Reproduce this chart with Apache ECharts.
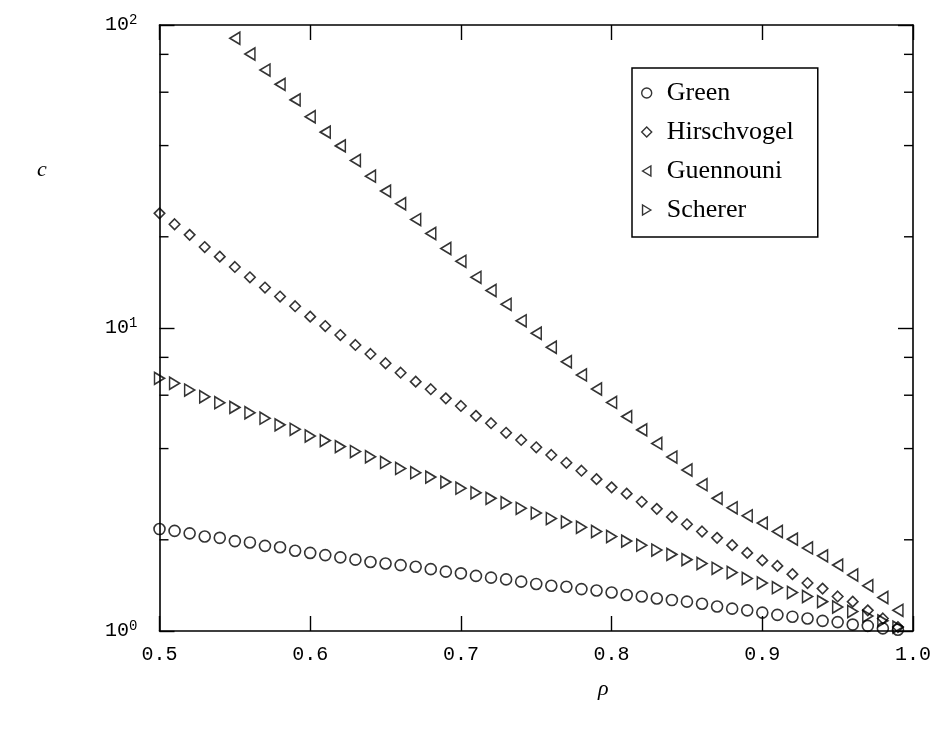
<!DOCTYPE html>
<html><head><meta charset="utf-8">
<script src="https://cdn.jsdelivr.net/npm/echarts@6/dist/echarts.min.js"></script>
<style>html,body{margin:0;padding:0;background:#fff}#c{width:934px;height:735px}</style>
</head><body><div id="c"></div>
<script>
// ---- data ----
const rho = [0.50,0.51,0.52,0.53,0.54,0.55,0.56,0.57,0.58,0.59,
             0.60,0.61,0.62,0.63,0.64,0.65,0.66,0.67,0.68,0.69,
             0.70,0.71,0.72,0.73,0.74,0.75,0.76,0.77,0.78,0.79,
             0.80,0.81,0.82,0.83,0.84,0.85,0.86,0.87,0.88,0.89,
             0.90,0.91,0.92,0.93,0.94,0.95,0.96,0.97,0.98,0.99];
const green = [2.17,2.14,2.10,2.05,2.03,1.98,1.96,1.91,1.89,1.84,
               1.81,1.78,1.75,1.72,1.69,1.67,1.65,1.63,1.60,1.57,
               1.55,1.52,1.50,1.48,1.455,1.43,1.41,1.40,1.375,1.36,
               1.34,1.315,1.30,1.28,1.265,1.25,1.23,1.205,1.185,1.17,
               1.15,1.13,1.115,1.10,1.08,1.07,1.05,1.04,1.02,1.01];
const hirschvogel = [23.9,22.0,20.3,18.5,17.2,15.9,14.7,13.6,12.7,11.8,
                     10.9,10.15,9.48,8.79,8.21,7.65,7.12,6.65,6.28,5.86,
                     5.53,5.13,4.85,4.51,4.27,4.04,3.81,3.59,3.38,3.17,
                     2.98,2.84,2.67,2.53,2.38,2.25,2.13,2.03,1.92,1.81,
                     1.71,1.64,1.54,1.44,1.38,1.30,1.25,1.17,1.10,1.03];
const guennouniRho = rho.slice(5); // 0.55 .. 0.99 (earlier values lie above 10^2)
const guennouni = [90.4,80.2,71.0,63.7,56.6,
                   49.8,44.3,39.9,35.7,31.7,28.3,25.7,22.8,20.5,18.3,
                   16.6,14.7,13.3,11.97,10.56,9.61,8.64,7.74,7.00,6.29,
                   5.68,5.10,4.61,4.16,3.75,3.40,3.04,2.74,2.55,2.40,
                   2.27,2.13,2.01,1.88,1.77,1.65,1.53,1.41,1.29,1.17];
const scherer = [6.82,6.57,6.24,5.93,5.67,5.47,5.25,5.04,4.79,4.63,
                 4.40,4.25,4.06,3.91,3.76,3.60,3.44,3.33,3.22,3.10,
                 2.96,2.86,2.74,2.65,2.54,2.45,2.35,2.29,2.20,2.13,
                 2.05,1.98,1.92,1.85,1.79,1.72,1.67,1.61,1.56,1.49,
                 1.44,1.39,1.34,1.30,1.25,1.20,1.16,1.12,1.08,1.03];
const seriesNames = ['Green','Hirschvogel','Guennouni','Scherer'];
const xMin = 0.5, xMax = 1.0, xStep = 0.1;
const yMin = 1, yMax = 100;
const minorTickValues = [2,4,6,8,20,40,60,80];

// ---- chart ----
const chart = echarts.init(document.getElementById('c'));
const mono = 'Liberation Mono';
const serif = 'Liberation Serif';
const lineStyle = {color:'#000', width:1.6};
const tickStyle = {color:'#000', width:1.4};
const markStyle = {color:'rgba(0,0,0,0)', borderColor:'#000', borderWidth:1.6};

const xBase = {type:'value', min:xMin, max:xMax, interval:xStep,
  axisLine:{show:true, onZero:false, lineStyle},
  axisTick:{show:true, inside:true, length:15, lineStyle:tickStyle},
  splitLine:{show:false}};
const yBase = {type:'log', logBase:10, min:yMin, max:yMax,
  axisLine:{show:true, onZero:false, lineStyle},
  axisTick:{show:true, inside:true, length:15, lineStyle:tickStyle},
  minorTick:{show:false}, splitLine:{show:false}};

const pairs = (xs, ys) => xs.map((x,i)=>[x, ys[i]]);
function scatter(name, xs, ys, symbol, size){
  return {type:'scatter', name, data:pairs(xs, ys), symbol, symbolSize:size,
    itemStyle:markStyle, clip:false, emphasis:{disabled:true}, z:3};
}

chart.setOption({
  animation:false,
  backgroundColor:'#fff',
  grid:{left:159.5, right:20, top:25, bottom:104},
  xAxis:[
    Object.assign({}, xBase, {position:'bottom',
      axisLabel:{margin:14, fontFamily:mono, fontSize:20, color:'#000',
        formatter:v=>v.toFixed(1)}}),
    Object.assign({}, xBase, {position:'top', axisLabel:{show:false}})
  ],
  yAxis:[
    Object.assign({}, yBase, {position:'left',
      axisLabel:{margin:22, color:'#000', fontFamily:mono, fontSize:20,
        formatter:v=>'10{s|'+Math.round(Math.log10(v))+'}',
        rich:{s:{fontFamily:mono, fontSize:14, color:'#000', padding:[0,0,10,0]}}}}),
    Object.assign({}, yBase, {position:'right', axisLabel:{show:false}})
  ],
  legend:{
    data:seriesNames, orient:'vertical', left:632, top:68,
    padding:[12,24,14,9], itemGap:13, itemWidth:30, itemHeight:10,
    borderColor:'#000', borderWidth:1.5, borderRadius:0,
    itemStyle:{color:'rgba(0,0,0,0)', borderColor:'#000', borderWidth:1.4}, selectedMode:false,
    textStyle:{fontFamily:serif, fontSize:26, color:'#000', lineHeight:26}
  },
  graphic:[
    {type:'text', left:37, top:159, style:{text:'c', font:'italic 22px "Liberation Serif"', fill:'#000'}},
    {type:'text', left:598, top:678, style:{text:'ρ', font:'italic 22px "Liberation Serif"', fill:'#000'}}
  ],
  series:[
    scatter('Green', rho, green, 'circle', 11),
    scatter('Hirschvogel', rho, hirschvogel, 'path://M5,0L10,5L5,10L0,5Z', 10.5),
    scatter('Guennouni', guennouniRho, guennouni, 'path://M0,6L10,0L10,12Z', [10,12]),
    scatter('Scherer', rho, scherer, 'path://M10,6L0,0L0,12Z', [10,12]),
    {type:'custom', name:'minorTicks', coordinateSystem:'cartesian2d', silent:true, clip:false,
      data:minorTickValues.map(v=>[xMin, v]),
      renderItem:function(params, api){
        const v = api.value(1);
        const pl = api.coord([xMin, v]);
        const pr = api.coord([xMax, v]);
        return {type:'group', children:[
          {type:'line', shape:{x1:pl[0], y1:pl[1], x2:pl[0]+9, y2:pl[1]}, style:{stroke:'#000', lineWidth:1.4}},
          {type:'line', shape:{x1:pr[0], y1:pr[1], x2:pr[0]-9, y2:pr[1]}, style:{stroke:'#000', lineWidth:1.4}}
        ]};
      }}
  ]
});
</script></body></html>
